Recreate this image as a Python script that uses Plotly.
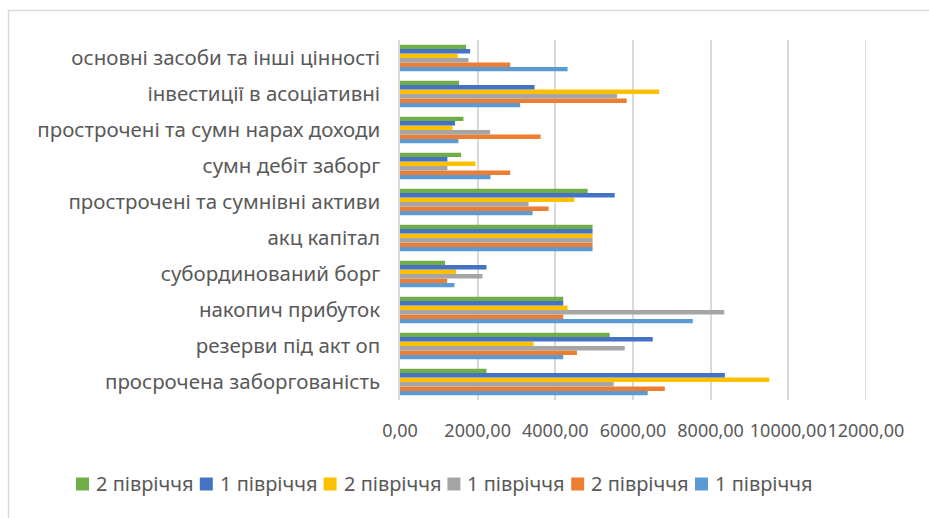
import plotly.graph_objects as go

# Categories listed bottom-to-top (first category sits at the bottom)
categories = [
    "просрочена заборгованість",
    "резерви під акт оп",
    "накопич прибуток",
    "субординований борг",
    "акц капітал",
    "прострочені та сумнівні активи",
    "сумн дебіт заборг",
    "прострочені та сумн нарах доходи",
    "інвестиції в асоціативні",
    "основні засоби та інші цінності",
]

# Six series, drawn bottom-to-top inside each category group
s1_h1 = [6381, 4205, 7542, 1402, 4960, 3414, 2331, 1505, 3096, 4317]
s2_h2 = [6820, 4558, 4205, 1213, 4960, 3827, 2838, 3621, 5839, 2838]
s3_h1 = [5504, 5788, 8351, 2124, 4960, 3311, 1221, 2322, 5590, 1763]
s4_h2 = [9512, 3440, 4317, 1445, 4960, 4489, 1944, 1350, 6674, 1488]
s5_h1 = [8368, 6510, 4205, 2227, 4960, 5530, 1221, 1419, 3466, 1806]
s6_h2 = [2227, 5401, 4205, 1161, 4960, 4833, 1574, 1634, 1522, 1703]

series_names = ["1 півріччя", "2 півріччя", "1 півріччя", "2 півріччя", "1 півріччя", "2 півріччя"]
series_values = [s1_h1, s2_h2, s3_h1, s4_h2, s5_h1, s6_h2]
series_colors = ["#5B9BD5", "#ED7D31", "#A5A5A5", "#FFC000", "#4472C4", "#70AD47"]

tick_vals = [0, 2000, 4000, 6000, 8000, 10000, 12000]
tick_text = ["0,00", "2000,00", "4000,00", "6000,00", "8000,00", "10000,00", "12000,00"]

FONT = "Noto Sans"
TEXT = "#595959"
GRID = "#D9D9D9"

fig = go.Figure()
for name, vals, col in zip(series_names, series_values, series_colors):
    fig.add_trace(go.Bar(
        y=categories, x=vals, name=name, orientation="h",
        marker=dict(color=col, line=dict(width=0)),
        showlegend=False,
    ))

W, H = 929, 518
L, R, T, B = 400, 63, 40, 118
pw, ph = W - L - R, H - T - B

def px_to_paper_x(px):
    return (px - L) / pw

def px_to_paper_y(py):
    return (H - B - py) / ph

# Key row below the chart: series listed top-to-bottom as they appear in each group
key_left, key_pitch, key_y, key_box = 76, 123.8, 484, 13
shapes = []
annotations = []
for i, idx in enumerate(reversed(range(len(series_names)))):
    x0 = key_left + i * key_pitch
    shapes.append(dict(
        type="rect", xref="paper", yref="paper",
        x0=px_to_paper_x(x0), x1=px_to_paper_x(x0 + key_box),
        y0=px_to_paper_y(key_y - key_box / 2), y1=px_to_paper_y(key_y + key_box / 2),
        fillcolor=series_colors[idx], line=dict(width=0),
    ))
    annotations.append(dict(
        xref="paper", yref="paper",
        x=px_to_paper_x(x0 + key_box + 5), y=px_to_paper_y(key_y - 1),
        xanchor="left", yanchor="middle", showarrow=False,
        text=series_names[idx],
        font=dict(family=FONT, size=20, color=TEXT),
    ))

# Gridline at the far end of the value axis
shapes.append(dict(
    type="line", xref="x", yref="paper",
    x0=tick_vals[-1], x1=tick_vals[-1], y0=0, y1=1,
    line=dict(color=GRID, width=1.5), layer="below",
))

# Light chart-area frame
shapes.append(dict(
    type="rect", xref="paper", yref="paper",
    x0=px_to_paper_x(8.5), x1=px_to_paper_x(940),
    y0=px_to_paper_y(10.5), y1=px_to_paper_y(530),
    line=dict(color=GRID, width=1.5), fillcolor="rgba(0,0,0,0)",
    layer="below",
))

fig.update_layout(
    width=W, height=H,
    margin=dict(l=L, r=R, t=T, b=B, pad=0),
    paper_bgcolor="white", plot_bgcolor="white",
    barmode="group", bargap=0.26, bargroupgap=0,
    font=dict(family=FONT, color=TEXT),
    xaxis=dict(
        range=[0, 12003], tickvals=tick_vals, ticktext=tick_text,
        tickangle=0, showgrid=True, gridcolor=GRID, gridwidth=1.5,
        zeroline=False, showline=False, ticks="",
        tickfont=dict(family=FONT, size=18, color=TEXT),
        ticklabelstandoff=18,
    ),
    yaxis=dict(
        type="category", showgrid=False, zeroline=False,
        showline=True, linecolor=GRID, linewidth=1.5,
        ticks="", tickfont=dict(family=FONT, size=20.5, color=TEXT),
        ticklabelstandoff=14,
    ),
    showlegend=False,
    shapes=shapes,
    annotations=annotations,
)

fig.write_html("out.html")
